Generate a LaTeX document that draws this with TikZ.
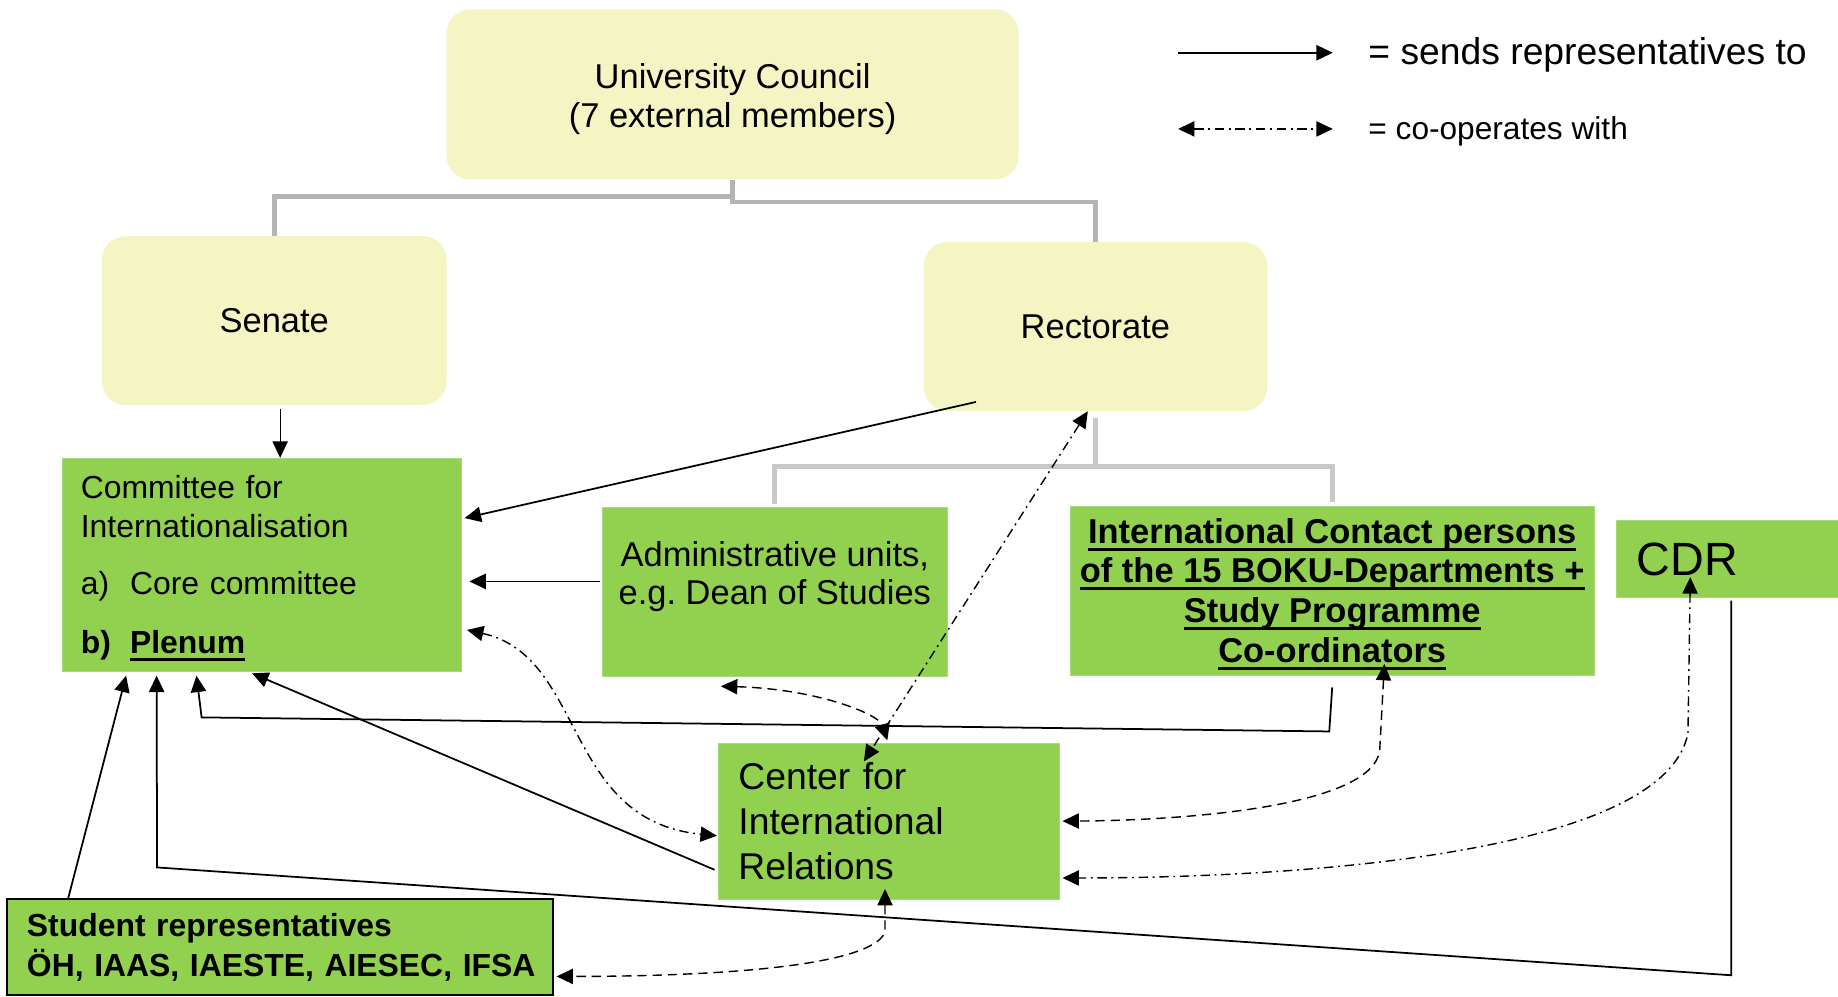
\documentclass[tikz,border=0pt]{standalone}
\usepackage{fontspec}
\setmainfont{Liberation Sans}
\usetikzlibrary{arrows.meta}
\newcommand{\uln}[1]{\setbox0\hbox{#1}\rlap{\rule[-3.2pt]{\wd0}{1.3pt}}\box0}
\definecolor{boxyellow}{HTML}{F4F5C2}
\definecolor{boxgreen}{HTML}{92D050}
\definecolor{edgegreen}{HTML}{A6DA78}
\definecolor{treegray}{HTML}{B4B4B4}
\definecolor{treegraylight}{HTML}{C8C8C8}

\begin{document}
\frenchspacing
\begin{tikzpicture}[
				x=0.5pt, y=-0.5pt,
				>={Triangle[length=7pt,width=6.5pt]},
				yellowbox/.style={rounded corners=10pt, fill=boxyellow, inner sep=0pt, align=center, font=\fontsize{14.7}{16.5}\selectfont},
				greenbox/.style={fill=boxgreen, draw=edgegreen, line width=0.4pt, inner sep=0pt},
				sendline/.style={line width=0.75pt, ->},
				coopdash/.style={line width=0.6pt, <->, dash pattern=on 4pt off 2.5pt},
				coopdot/.style={line width=0.6pt, <->, dash pattern=on 4pt off 2pt on 0.8pt off 2pt},
				treeline/.style={line width=2pt, treegray},
				]
				\useasboundingbox (0,0) rectangle (1568,850);
				%Nodes
				\node[yellowbox, minimum width=244pt, minimum height=72.5pt]   (council)   at (625,80.5)    {\rule{0pt}{14.5pt}University Council\\(7 external members)};
				\node[yellowbox, minimum width=147pt, minimum height=72pt]     (senate)    at (234,273.5)   {Senate};
				\node[yellowbox, minimum width=146.5pt, minimum height=72pt]   (rector)    at (934.5,278.5) {Rectorate};
				\node[greenbox, text width=154.5pt, inner xsep=8pt, align=left, minimum height=91pt,
				      font=\fontsize{13.6}{16.5}\selectfont]                   (committee) at (223.5,482)
				      {\rule{0pt}{12.7pt}Committee for\\Internationalisation\\[8pt]\makebox[21pt][l]{a)}Core committee\\[8.5pt]\textbf{\makebox[21pt][l]{b)}\uln{Plenum}}};
				\node[greenbox, minimum width=147pt, minimum height=72pt]     (admin)     at (661,505)     {};
				\node[align=center, inner sep=0pt, font=\fontsize{14.7}{16.5}\selectfont] (admintext) at (661,492) {Administrative units,\\e.g. Dean of Studies};
				\node[greenbox, minimum width=223.5pt, minimum height=72pt, align=center,
				      font=\fontsize{14.7}{17}\selectfont\bfseries]            (contact)   at (1136.5,504)
				      {\rule{0pt}{13.5pt}\uln{International Contact persons}\\\uln{of the 15 BOKU-Departments +}\\\uln{Study Programme}\\\uln{Co-ordinators}};
				\node[greenbox, anchor=west, minimum width=100.5pt, minimum height=33pt, text width=83.5pt, inner xsep=8.5pt,
				      align=left, font=\fontsize{19.9}{22}\selectfont]          (cdr)       at (1379,477)    {CDR};
				\node[greenbox, text width=128.5pt, inner xsep=8.5pt, align=left, minimum height=66.5pt,
				      font=\fontsize{15.9}{19.25}\selectfont]                   (cir)       at (758.5,700.5) {Center for\\International\\Relations};
				\node[greenbox, draw=black, line width=0.8pt, text width=216pt, inner xsep=8.5pt, align=left, minimum height=41pt,
				      font=\fontsize{13.6}{17}\selectfont\bfseries]            (students)  at (239,808)     {\mbox{Student representatives}\\\mbox{ÖH, IAAS, IAESTE, AIESEC, IFSA}};

				%Legend
				\coordinate (keyA) at (1005,45);
				\coordinate (keyB) at (1137,45);
				\coordinate (keyC) at (1005,110);
				\coordinate (keyD) at (1137,110);
				\node[anchor=base west, inner sep=0pt, font=\fontsize{15.9}{18}\selectfont] (keysend) at (1167,55)  {= sends representatives to};
				\node[anchor=base west, inner sep=0pt, font=\fontsize{13.5}{16}\selectfont] (keycoop) at (1167,119) {= co-operates with};
				\draw[sendline] (keyA) -- (keyB);
				\draw[coopdot] (keyC) -- (keyD);

				%Tree
				\draw[treeline] (council.south) -- ++(0,14) -| (senate.north);
				\draw[treeline] (council.south) -- ++(0,19) -| (rector.north);
				\draw[treeline, treegraylight] ([yshift=-3pt]rector.south) -- ++(0,41) -| ([yshift=1.5pt]admin.north);
				\draw[treeline, treegraylight] ([yshift=-3pt]rector.south) -- ++(0,41) -| ([yshift=1.5pt]contact.north);

				%Lines
				\coordinate (bendA) at (1134,624);
				\coordinate (bendB) at (172,612);
				\coordinate (bendC) at (1477,832);
				\coordinate (bendD) at (134,740);
				\draw[sendline, line width=0.5pt] ([xshift=2.5pt,yshift=-1.5pt]senate.south) -- ([xshift=7.75pt]committee.north);
				\draw[sendline] ([xshift=22.5pt,yshift=4pt]rector.south west) -- ([xshift=1pt,yshift=20pt]committee.east);
				\draw[sendline] ([xshift=-1pt,yshift=4.5pt]admin.west) -- ([xshift=3pt,yshift=-7pt]committee.east);
				\draw[sendline] ([xshift=-1.5pt,yshift=-20.75pt]cir.west) -- ([xshift=-4.25pt,yshift=-0.5pt]committee.south);
				\draw[sendline] ([yshift=-5pt]contact.south) -- (bendA) -- (bendB) -- ([xshift=57.5pt,yshift=-1.5pt]committee.south west);
				\draw[sendline] ([xshift=26.5pt]students.north west) -- ([xshift=27.5pt,yshift=-1.5pt]committee.south west);
				\draw[sendline] ([xshift=49pt,yshift=-1pt]cdr.south west) -- (bendC) -- (bendD) -- ([xshift=40.5pt,yshift=-1.5pt]committee.south west);

				\draw[coopdot] ([xshift=2pt,yshift=18pt]committee.south east) .. controls (500,560) and (480,700) .. ([xshift=-0.5pt,yshift=-6.25pt]cir.west);
				\draw[coopdash] ([xshift=-23pt,yshift=-4pt]admin.south) .. controls (700,588) and (750,610) .. ([xshift=-0.75pt,yshift=1pt]cir.north);
				\draw[coopdot] ([xshift=-3.25pt]rector.south) -- ([xshift=-10.75pt,yshift=-8pt]cir.north);
				\draw[coopdash] ([xshift=22.25pt,yshift=5pt]contact.south) -- ++(-4,74) .. controls (1170,690) and (1000,700) .. ([xshift=1pt]cir.east);
				\draw[coopdot] ([xshift=31.5pt,yshift=9pt]cdr.south west) -- ++(-2,133) .. controls (1420,730) and (1100,749) .. ([xshift=1pt,yshift=-24.25pt]cir.east);
				\draw[coopdash] ([xshift=-1.75pt,yshift=4.5pt]cir.south) -- ++(0,37) .. controls (740,830) and (560,833) .. ([xshift=1pt,yshift=-12.5pt]students.east);
\end{tikzpicture}
\end{document}
